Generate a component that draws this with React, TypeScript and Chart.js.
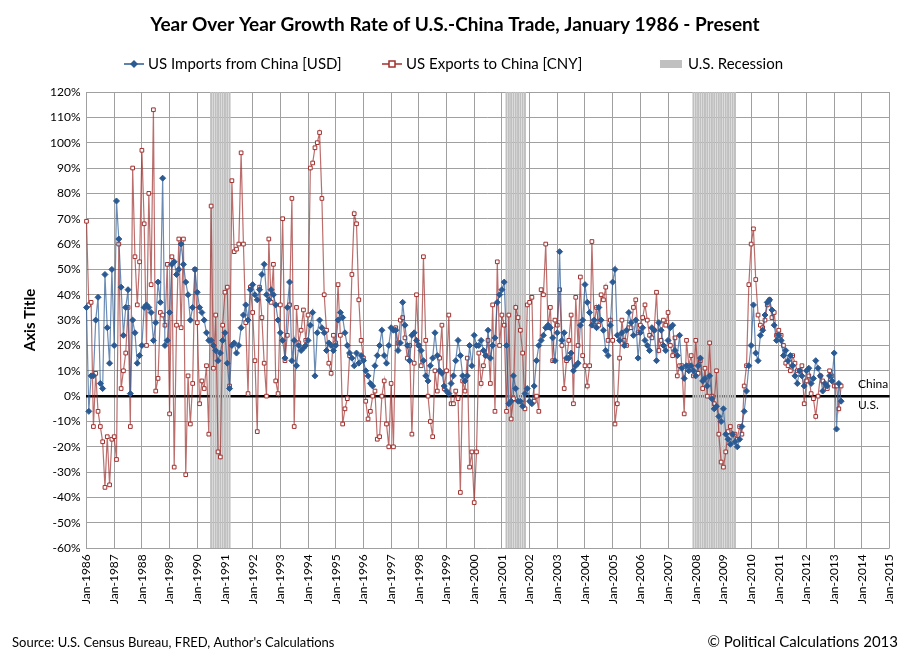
import { useEffect, useRef } from "react";
import Chart from "chart.js/auto";

// monthly labels Jan-1986 .. Jan-2015
const MONTHS = ["Jan", "Feb", "Mar", "Apr", "May", "Jun", "Jul", "Aug", "Sep", "Oct", "Nov", "Dec"];
const labels: string[] = [];
for (let y = 1986; y <= 2014; y++) for (const m of MONTHS) labels.push(`${m}-${y}`);
labels.push("Jan-2015");

// US imports from China, YoY % (USD)
const imports: number[] = [
  35, -6, 8, 8, 30, 39, 5, 3, 48, 27, 13, 50,
  20, 77, 62, 43, 24, 35, 42, 1, 30, 25, 13, 16,
  20, 35, 36, 35, 33, 22, 29, 45, 37, 86, 20, 22,
  33, 52, 53, 48, 50, 60, 52, 45, 40, 30, 35, 50,
  41, 35, 33, 30, 25, 22, 22, 20, 18, 14, 17, 22,
  25, 13, 3, 20, 21, 17, 20, 27, 32, 36, 30, 42,
  44, 40, 38, 42, 48, 52, 40, 38, 42, 40, 36, 30,
  25, 22, 15, 35, 45, 14, 22, 12, 20, 18, 19, 20,
  22, 28, 33, 8, 25, 30, 27, 25, 18, 21, 20, 18,
  20, 30, 33, 31, 25, 20, 17, 15, 12, 17, 13, 16,
  14, 10, 8, 5, 4, 12, 16, 20, 26, 16, 13, 20,
  27, 26, 26, 18, 21, 37, 28, 20, 14, 24, 25, 22,
  20, 18, 14, 8, 6, 12, 15, 25, 16, 10, 9, 4,
  2, 1, 5, 8, 14, 22, 16, 8, 6, 8, 20, 12,
  24, 20, 20, 22, 18, 16, 26, 15, 20, 23, 37, 40,
  42, 45, 20, -3, -2, 8, 3, -2, -2, -4, 1, 3,
  -2, -3, 4, 14, 20, 22, 24, 27, 28, 27, 23, 14,
  25, 57, 22, 25, 15, 15, 17, 10, 12, 13, 28, 30,
  44, 37, 33, 28, 30, 27, 35, 30, 26, 18, 16, 28,
  45, 50, 24, 22, 25, 20, 26, 33, 29, 24, 30, 15,
  25, 27, 22, 20, 18, 27, 26, 14, 29, 26, 20, 18,
  22, 27, 28, 18, 16, 24, 11, 7, 12, 10, 12, 10,
  8, 12, 15, 6, 7, 4, 8, -1, -5, -4, -8, -10,
  -5, -15, -17, -19, -15, -18, -20, -17, -12, -6, 2, 12,
  20, 36, 17, 14, 24, 26, 32, 37, 38, 34, 28, 22,
  24, 22, 16, 18, 14, 16, 12, 8, 5, 10, 8, 4,
  10, 11, 5, 7, 14, 11, 8, 2, 5, 4, 8, 6,
  17, -13, 5, -2,
];

// US exports to China, YoY % (CNY)
const exports: number[] = [
  69, 36, 37, -12, 9, -6, -12, -18, -36, -16, -35, -17,
  -16, -25, 60, 3, 10, 17, 35, -12, 90, 55, 36, 53,
  97, 68, 20, 80, 44, 113, 2, 7, 33, 32, 28, 52,
  -7, 55, -28, 28, 62, 27, 62, -31, 8, -11, 5, 50,
  29, -3, 6, 3, 12, -15, 75, 11, 32, -22, -24, 28,
  41, 43, 4, 85, 57, 58, 60, 96, 60, 29, 1, 43,
  33, 14, -14, 43, 31, 13, 0, 62, 37, 52, 6, 1,
  36, 70, 14, 24, 36, 78, -12, 35, 21, 26, 34, 22,
  32, 90, 92, 98, 100, 104, 78, 40, 26, 13, 9, 24,
  21, 44, 24, -11, -5, -1, 16, 48, 72, 68, 38, 22,
  15, -2, -9, -6, 0, 2, -17, -16, 0, 6, -11, -20,
  5, -20, 27, 21, 30, 31, 23, 15, 20, -15, 13, 40,
  20, 12, 55, 22, 0, -10, -16, 10, 2, 15, 28, 3,
  10, 32, -3, -3, 2, -1, -38, 6, 2, 15, -28, -22,
  -42, -22, 17, 5, 12, 16, 22, 5, 36, -6, 53, 20,
  32, 28, -6, 32, -9, -1, 35, 31, 26, 17, -5, 36,
  37, 39, -2, 0, -6, 42, 40, 60, 27, 35, 14, 30,
  28, 42, 20, 3, 14, 22, 32, -3, 39, 20, 47, 16,
  12, 4, 12, 61, 28, 35, 28, 40, 38, 43, 22, 30,
  22, -11, -3, 15, 30, 22, 20, 27, 27, 35, 38, 25,
  28, 31, 36, 30, 24, 23, 26, 41, 18, 22, 30, 28,
  33, 20, 16, 23, 8, 12, 12, -7, 22, 12, 16, 8,
  22, 9, 14, 3, 11, 0, 21, 0, -3, 10, -15, -26,
  -28, -22, -14, -12, -15, -15, -17, -12, -15, 4, 12, 44,
  60, 66, 46, 32, 28, 27, 30, 36, 38, 31, 33, 24,
  26, 24, 20, 13, 12, 10, 16, 13, 10, 10, 12, -3,
  6, 8, 1, -1, -8, 0, 8, 6, 4, 3, 10, 8,
  4, 4, -5, 4,
];

// recession periods as [first month, last month] label
const recessions: [string, string][] = [
  ["Jul-1990", "Mar-1991"],
  ["Mar-2001", "Nov-2001"],
  ["Dec-2007", "Jun-2009"],
];

const FONT = "Lato, 'Noto Sans', sans-serif";
const BLUE = "#2b5a93";
const RED = "#a0302e";

export default function App() {
  const ref = useRef<HTMLCanvasElement | null>(null);

  useEffect(() => {
    document.body.style.margin = "0";
    if (!ref.current) return;

    const recData = labels.map(() => null as null | [number, number]);
    for (const [a, b] of recessions) {
      for (let i = labels.indexOf(a); i <= labels.indexOf(b); i++) recData[i] = [-60, 120];
    }

    const overlay = {
      id: "overlay",
      afterDraw: (chart: Chart) => {
        const c = chart.ctx;
        c.save();
        c.fillStyle = "#000";
        c.textBaseline = "middle";
        c.textAlign = "center";
        c.font = `bold 19px ${FONT}`;
        c.fillText("Year Over Year Growth Rate of U.S.-China Trade, January 1986 - Present", 455, 25);

        // legend
        c.font = `15px ${FONT}`;
        c.textAlign = "left";
        const ly = 64;
        c.strokeStyle = BLUE;
        c.lineWidth = 1.5;
        c.beginPath(); c.moveTo(124, ly); c.lineTo(144, ly); c.stroke();
        c.fillStyle = BLUE;
        c.beginPath(); c.moveTo(134, ly - 4); c.lineTo(138, ly); c.lineTo(134, ly + 4); c.lineTo(130, ly); c.fill();
        c.fillStyle = "#000";
        c.fillText("US Imports from China [USD]", 148, ly);
        c.strokeStyle = RED;
        c.beginPath(); c.moveTo(382, ly); c.lineTo(402, ly); c.stroke();
        c.fillStyle = "#fff";
        c.fillRect(389, ly - 3, 6, 6);
        c.strokeRect(389, ly - 3, 6, 6);
        c.fillStyle = "#000";
        c.fillText("US Exports to China [CNY]", 406, ly);
        c.fillStyle = "#c0c0c0";
        c.fillRect(660, ly - 4, 22, 8);
        c.fillStyle = "#000";
        c.fillText("U.S. Recession", 688, ly);

        // end labels
        c.font = `12px ${FONT}`;
        c.fillText("China", 858, 384);
        c.fillText("U.S.", 858, 405);

        // axis title
        c.save();
        c.translate(30, 320);
        c.rotate(-Math.PI / 2);
        c.textAlign = "center";
        c.font = `bold 15px ${FONT}`;
        c.fillText("Axis Title", 0, 0);
        c.restore();

        // footer
        c.font = `13px ${FONT}`;
        c.fillText("Source: U.S. Census Bureau, FRED, Author's Calculations", 12, 643);
        c.textAlign = "right";
        c.font = `15px ${FONT}`;
        c.fillText("© Political Calculations 2013", 898, 642);
        c.restore();
      },
    };

    const chart = new Chart(ref.current, {
      type: "line",
      data: {
        labels,
        datasets: [
          {
            label: "US Imports from China [USD]",
            data: imports,
            borderColor: "rgba(43,90,147,0.7)",
            borderWidth: 1.2,
            pointStyle: "rectRot",
            pointRadius: 3,
            pointBackgroundColor: BLUE,
            pointBorderColor: BLUE,
            pointBorderWidth: 1,
            order: 1,
          },
          {
            label: "US Exports to China [CNY]",
            data: exports,
            borderColor: "rgba(160,48,46,0.7)",
            borderWidth: 1.2,
            pointStyle: "rect",
            pointRadius: 2.6,
            pointBackgroundColor: "#fff",
            pointBorderColor: RED,
            pointBorderWidth: 1,
            order: 2,
          },
          {
            type: "bar",
            label: "U.S. Recession",
            data: recData as any,
            backgroundColor: "#c0c0c0",
            barPercentage: 0.85,
            categoryPercentage: 1,
            order: 3,
          } as any,
        ],
      },
      options: {
        animation: false,
        responsive: false,
        layout: { padding: { top: 92, right: 6, bottom: 51, left: 44 } },
        plugins: { legend: { display: false }, tooltip: { enabled: false } },
        scales: {
          x: {
            offset: false,
            grid: {
              offset: false,
              color: (ctx: any) => (ctx.index % 12 === 0 ? "#a0a0a0" : "transparent"),
              drawTicks: false,
            },
            border: { display: false },
            ticks: {
              autoSkip: false,
              maxRotation: 90,
              minRotation: 90,
              padding: 6,
              color: "#000",
              font: { family: FONT, size: 12 },
              callback: (_v: any, i: number) => (i % 12 === 0 ? labels[i] : ""),
            },
          },
          y: {
            min: -60,
            max: 120,
            grid: {
              color: (ctx: any) => (ctx.tick && ctx.tick.value === 0 ? "#000" : "#a0a0a0"),
              lineWidth: (ctx: any) => (ctx.tick && ctx.tick.value === 0 ? 2.5 : 1),
              drawTicks: false,
            },
            border: { display: false },
            ticks: {
              stepSize: 10,
              padding: 6,
              color: "#000",
              font: { family: FONT, size: 12 },
              callback: (v: any) => `${v}%`,
            },
          },
        },
      },
      plugins: [overlay],
    });

    return () => chart.destroy();
  }, []);

  return <canvas ref={ref} width={910} height={661} />;
}
